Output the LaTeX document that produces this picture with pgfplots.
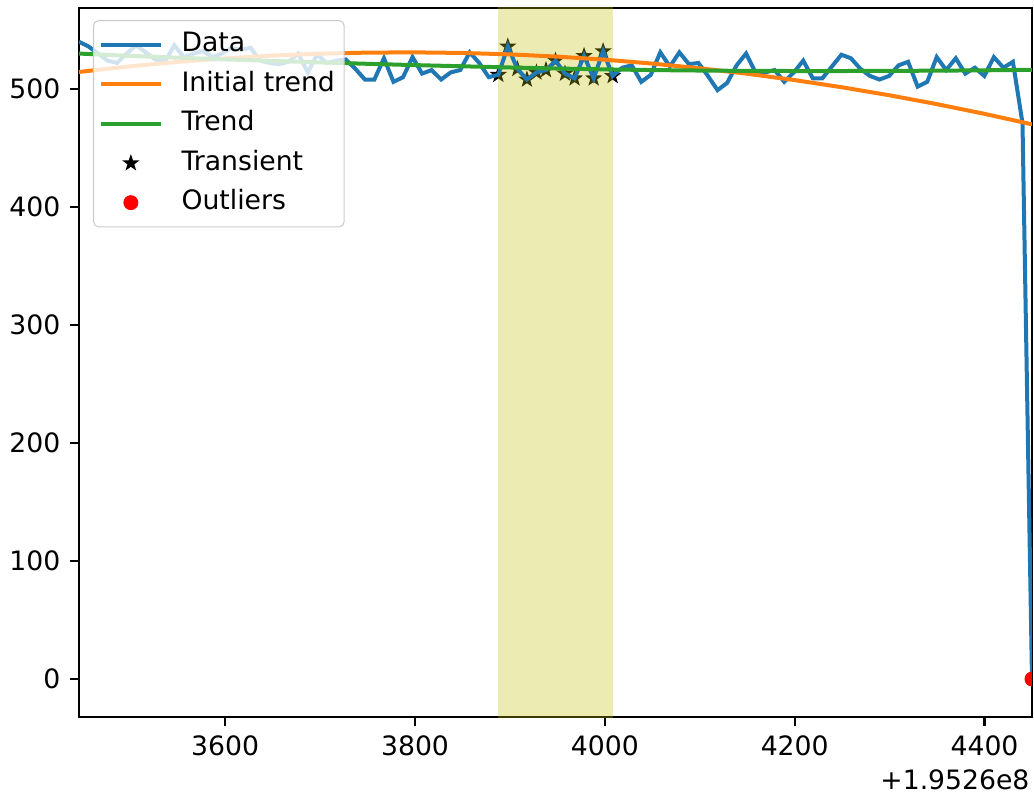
\documentclass[border=0pt]{standalone}
\usepackage{fontspec}
\setmainfont{DejaVu Sans}
\usepackage{pgfplots}
\usepackage{pgfplotstable}
\pgfplotsset{compat=1.18}
\definecolor{c0}{HTML}{1F77B4}
\definecolor{c1}{HTML}{FF7F0E}
\definecolor{c2}{HTML}{2CA02C}
\definecolor{shade}{RGB}{191,191,0}
\pgfdeclareplotmark{fstar}{%
  \pgfpathmoveto{\pgfpointpolar{90}{\pgfplotmarksize}}%
  \pgfpathlineto{\pgfpointpolar{126}{0.4*\pgfplotmarksize}}%
  \pgfpathlineto{\pgfpointpolar{162}{\pgfplotmarksize}}%
  \pgfpathlineto{\pgfpointpolar{198}{0.4*\pgfplotmarksize}}%
  \pgfpathlineto{\pgfpointpolar{234}{\pgfplotmarksize}}%
  \pgfpathlineto{\pgfpointpolar{270}{0.4*\pgfplotmarksize}}%
  \pgfpathlineto{\pgfpointpolar{306}{\pgfplotmarksize}}%
  \pgfpathlineto{\pgfpointpolar{342}{0.4*\pgfplotmarksize}}%
  \pgfpathlineto{\pgfpointpolar{18}{\pgfplotmarksize}}%
  \pgfpathlineto{\pgfpointpolar{54}{0.4*\pgfplotmarksize}}%
  \pgfpathclose\pgfusepathqfill}

\pgfplotstableread{
x y
3446.0 540
3456.0 536
3466.1 530
3476.1 524
3486.2 522
3496.2 530
3506.2 537
3516.3 531
3526.3 525
3536.4 523
3546.4 537
3556.4 527
3566.5 530
3576.5 532
3586.6 527
3596.6 530
3606.6 535
3616.7 533
3626.7 535
3636.8 524
3646.8 522
3656.8 521
3666.9 523
3676.9 530
3687.0 514
3697.0 529
3707.0 522
3717.1 524
3727.1 525
3737.2 517
3747.2 508
3757.2 508
3767.3 526
3777.3 506
3787.4 510
3797.4 527
3807.4 513
3817.5 516
3827.5 508
3837.6 514
3847.6 516
3857.6 531
3867.7 522
3877.7 510
3887.8 512
3897.8 536
3907.8 517
3917.9 508
3927.9 514
3938.0 516
3948.0 524
3958.0 513
3968.1 509
3978.1 528
3988.2 509
3998.2 532
4008.2 511
4018.3 518
4028.3 520
4038.4 506
4048.4 512
4058.4 531
4068.5 519
4078.5 531
4088.6 521
4098.6 522
4108.6 511
4118.7 499
4128.7 505
4138.8 520
4148.8 530
4158.8 514
4168.9 514
4178.9 516
4189.0 506
4199.0 514
4209.0 524
4219.1 509
4229.1 509
4239.2 519
4249.2 529
4259.2 526
4269.3 517
4279.3 511
4289.4 508
4299.4 511
4309.4 520
4319.5 523
4329.5 502
4339.6 506
4349.6 527
4359.6 516
4369.7 526
4379.7 513
4389.8 518
4399.8 511
4409.8 527
4419.9 518
4429.9 523
4440.0 471
4450.0 0
}\datatab

\pgfplotstableread{
x y
3887.8 512
3897.8 536
3907.8 517
3917.9 508
3927.9 514
3938.0 516
3948.0 524
3958.0 513
3968.1 509
3978.1 528
3988.2 509
3998.2 532
4008.2 511
}\transtab

\pgfplotstableread{
x y
3446 514.4
3500 519.2
3550 522.9
3600 525.9
3650 528.3
3700 529.9
3750 530.8
3800 531.0
3850 530.5
3900 529.3
3950 527.4
4000 524.8
4050 521.5
4100 517.5
4150 512.9
4200 507.5
4250 501.4
4300 494.6
4350 487.1
4400 478.9
4450 470.0
}\inittab

\pgfplotstableread{
x y
3446 530.0
3500 528.0
3550 526.5
3600 525.0
3650 523.8
3700 522.5
3750 521.3
3800 520.2
3850 519.2
3900 518.2
3950 517.3
4000 516.6
4050 516.0
4100 515.6
4150 515.3
4200 515.2
4250 515.2
4300 515.3
4350 515.5
4400 515.8
4450 516.2
}\trendtab

\begin{document}
\begin{tikzpicture}
\begin{axis}[
  name=ax,
  scale only axis,
  width=357.4pt, height=265.9pt,
  xmin=3446, xmax=4450,
  ymin=-32.2, ymax=568.6,
  xtick={3600,3800,4000,4200,4400},
  ytick={0,100,200,300,400,500},
  scaled x ticks=false, scaled y ticks=false,
  /pgf/number format/1000 sep={},
  /pgf/number format/assume math mode=true,
  tick align=outside,
  major tick length=3.5pt,
  every tick/.style={black, line width=0.8pt},
  axis line style={line width=0.8pt},
  xtick pos=bottom, ytick pos=left,
  clip marker paths=true,
  lineleg/.style={legend image code/.code={\draw[##1] (0pt,0pt) -- (22.5pt,0pt);}},
  markleg/.style={legend image code/.code={\draw[##1, fill opacity=1, draw opacity=1] plot coordinates {(11.25pt,0pt)};}},
  legend cell align=left,
  legend style={at={(0,1)}, anchor=north west, xshift=5.25pt, yshift=-4.5pt,
    fill=white, fill opacity=0.8, text opacity=1, draw=black!20,
    rounded corners=2pt, inner xsep=2pt, inner ysep=2.75pt, row sep=2.1pt,
    nodes={inner sep=1.5pt, text height=7.5pt, text depth=2.2pt},
    /tikz/every odd column/.append style={column sep=5.5pt}},
]
\addplot[only marks, mark=fstar, mark size=3.4pt, black, forget plot] table[x=x,y=y]{\transtab};
\addplot[draw=none, fill=shade, fill opacity=0.3, forget plot] coordinates {(3887.8,-40) (4008.2,-40) (4008.2,600) (3887.8,600)};
\addplot[c0, line width=1.5pt, lineleg] table[x=x,y=y]{\datatab};
\addlegendentry{Data}
\addplot[c1, line width=1.5pt, lineleg] table[x=x,y=y]{\inittab};
\addlegendentry{Initial trend}
\addplot[c2, line width=1.5pt, lineleg] table[x=x,y=y]{\trendtab};
\addlegendentry{Trend}
\addlegendimage{only marks, mark=fstar, mark size=3.4pt, black, markleg}
\addlegendentry{Transient}
\addplot[only marks, mark=*, mark size=2.6pt, red, mark options={draw=red, fill=red}, markleg] coordinates {(4450,0)};
\addlegendentry{Outliers}
\end{axis}
\node[anchor=base east, inner sep=0pt] at ([xshift=-0.75pt,yshift=-27pt]ax.south east) {+1.9526e8};
\pgfresetboundingbox
\path[use as bounding box] ([xshift=-29.625pt,yshift=-29.25pt]ax.south west) rectangle ([xshift=0.75pt,yshift=3pt]ax.north east);
\end{tikzpicture}
\end{document}
